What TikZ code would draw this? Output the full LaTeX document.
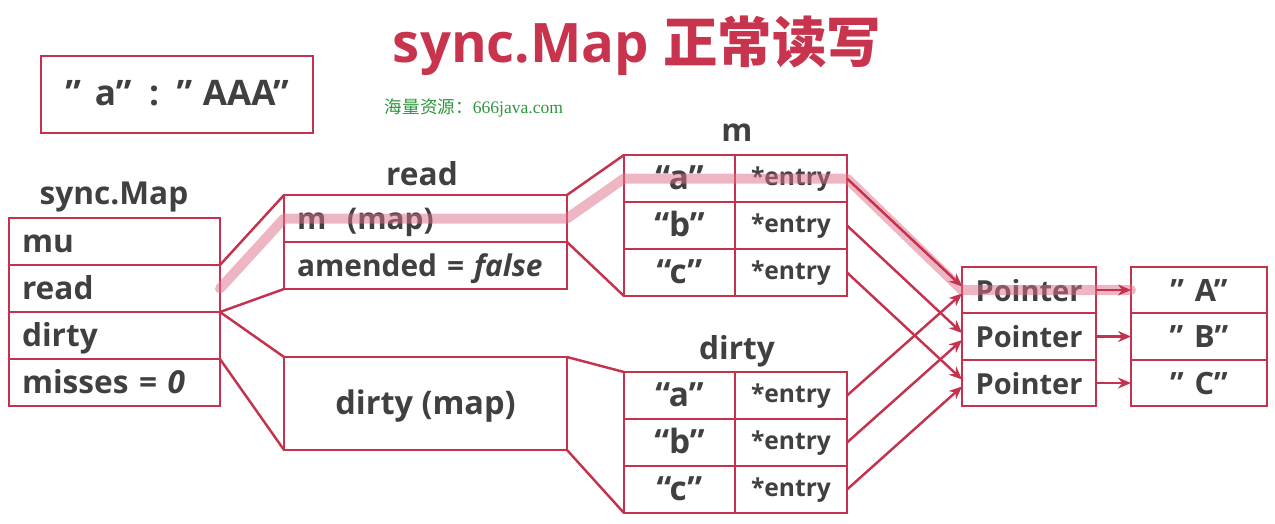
\documentclass[tikz,border=0pt]{standalone}
\usepackage{fontspec}
\setmainfont{Open Sans}
\newfontfamily\cjkfont{Noto Sans CJK SC}
\newfontfamily\wmserif{Liberation Serif}
\usetikzlibrary{arrows.meta,positioning}
\definecolor{mapred}{RGB}{196,50,78}
\definecolor{titlered}{RGB}{200,52,78}
\definecolor{inkgray}{RGB}{64,64,64}
\definecolor{wmgreen}{RGB}{46,150,60}
\definecolor{hipink}{RGB}{222,110,135}
\tikzset{
  title/.style={
    text=titlered,
    font=\bfseries\fontsize{31}{37}\selectfont
  },
  wmark/.style={
    text=wmgreen,
    font=\fontsize{10}{12}\selectfont
  },
  lbl/.style={
    text=inkgray,
    font=\bfseries\fontsize{18}{21}\selectfont
  },
  cell/.style={
    draw=mapred,
    line width=1.4pt,
    outer sep=0pt,
    text=inkgray,
    font=\bfseries\fontsize{18}{21}\selectfont,
    text height=15pt,
    text depth=2.4pt
  },
  smcell/.style={
    cell,
    align=left,
    text width=3.70cm,
    inner xsep=0.26cm,
    minimum height=0.94cm
  },
  rdcell/.style={
    cell,
    font=\bfseries\fontsize{17}{20}\selectfont,
    align=left,
    text width=5.14cm,
    inner xsep=0.26cm,
    minimum height=0.94cm
  },
  dmbox/.style={
    cell,
    font=\bfseries\fontsize{18.5}{22}\selectfont,
    minimum width=5.66cm,
    minimum height=1.86cm
  },
  kvbox/.style={
    cell,
    font=\bfseries\fontsize{20}{24}\selectfont,
    minimum width=5.44cm,
    minimum height=1.54cm
  },
  keycell/.style={
    cell,
    font=\bfseries\fontsize{19}{23}\selectfont,
    minimum width=2.22cm,
    minimum height=0.94cm
  },
  entcell/.style={
    cell,
    font=\bfseries\fontsize{14}{17}\selectfont,
    text height=10pt,
    text depth=2.6pt,
    minimum width=2.24cm,
    minimum height=0.94cm
  },
  ptrcell/.style={
    cell,
    font=\bfseries\fontsize{16.5}{20}\selectfont,
    minimum width=2.68cm,
    minimum height=0.93cm
  },
  valcell/.style={
    cell,
    font=\bfseries\fontsize{17.5}{21}\selectfont,
    minimum width=2.72cm,
    minimum height=0.93cm
  },
  funnel/.style={
    draw=mapred,
    line width=1.4pt
  },
  ptrarrow/.style={
    -{Stealth[length=2.6mm,width=2.2mm]},
    line width=1.4pt,
    mapred
  },
  hilite/.style={
    hipink,
    opacity=0.5,
    line width=0.2cm,
    line cap=round,
    line join=round
  }
}
\begin{document}
\begin{tikzpicture}[x=0.02cm,y=-0.02cm]
\useasboundingbox (0,0) rectangle (1275,524);
\node[title] (T) at (637,46) {sync.Map {\cjkfont 正常读写}};
\node[wmark] (W) at (474,108) {{\cjkfont 海量资源：}\wmserif 666java.com};
\node[kvbox] (KV) at (177,94.5) {”\hspace{0.4em}a”\hspace{0.5em}:\hspace{0.5em}”\hspace{0.3em}AAA”\hspace{0.3cm}};

% sync.Map struct
\node[lbl] (smL) at (114,197) {sync.Map};
\foreach \t [count=\i] in {mu,read,dirty,misses = \textit{0}}
  \node[smcell] (sm\i) at (114.5,194.5+47*\i) {\t};

% read / dirty
\node[lbl] (rdL) at (422,174) {read};
\node[rdcell] (rd1) at (425.5,218.5) {m\hspace{0.7em}(map)};
\node[rdcell] (rd2) at (425.5,265.5) {amended = \textit{false}};
\node[dmbox] (dm) at (425.5,403.5) {dirty (map)};

% maps
\node[lbl] (mL) at (737,133) {m};
\node[lbl] (dL) at (737,351) {dirty};
\foreach \k [count=\i] in {a,b,c}{
  \node[keycell] (mk\i) at (679.5,131.5+47*\i) {“\k”};
  \node[entcell] (me\i) at (791,131.5+47*\i) {*entry};
  \node[keycell] (dk\i) at (679.5,348.5+47*\i) {“\k”};
  \node[entcell] (de\i) at (791,348.5+47*\i) {*entry};
}

% pointers and values
\foreach \v [count=\i] in {A,B,C}{
  \node[ptrcell] (pt\i) at (1029,243.5+46.5*\i) {Pointer};
  \node[valcell] (vl\i) at (1199,243.5+46.5*\i) {”\hspace{0.35em}\v”};
}

\draw[funnel] (sm1.south east) -- (rd1.north west);
\draw[funnel] (sm2.south east) -- (rd2.south west);
\draw[funnel] (sm3.north east) -- (dm.north west);
\draw[funnel] (sm3.south east) -- (dm.south west);
\draw[funnel] (rd1.north east) -- (mk1.north west);
\draw[funnel] (rd1.south east) -- (mk3.south west);
\draw[funnel] (dm.north east) -- (dk1.north west);
\draw[funnel] (dm.south east) -- (dk3.south west);

\draw[hilite] (sm2.east) -- (rd1.west) -- (rd1.east) -- (mk1.west)
  -- (me1.east) -- (pt1.west) -- (vl1.west);

\foreach \i in {1,2,3}{
  \draw[ptrarrow] (me\i.east) -- ([yshift=2pt]pt\i.west);
  \draw[ptrarrow] (de\i.east) -- ([yshift=-2pt]pt\i.west);
  \draw[ptrarrow] (pt\i.east) -- (vl\i.west);
}
\end{tikzpicture}
\end{document}
